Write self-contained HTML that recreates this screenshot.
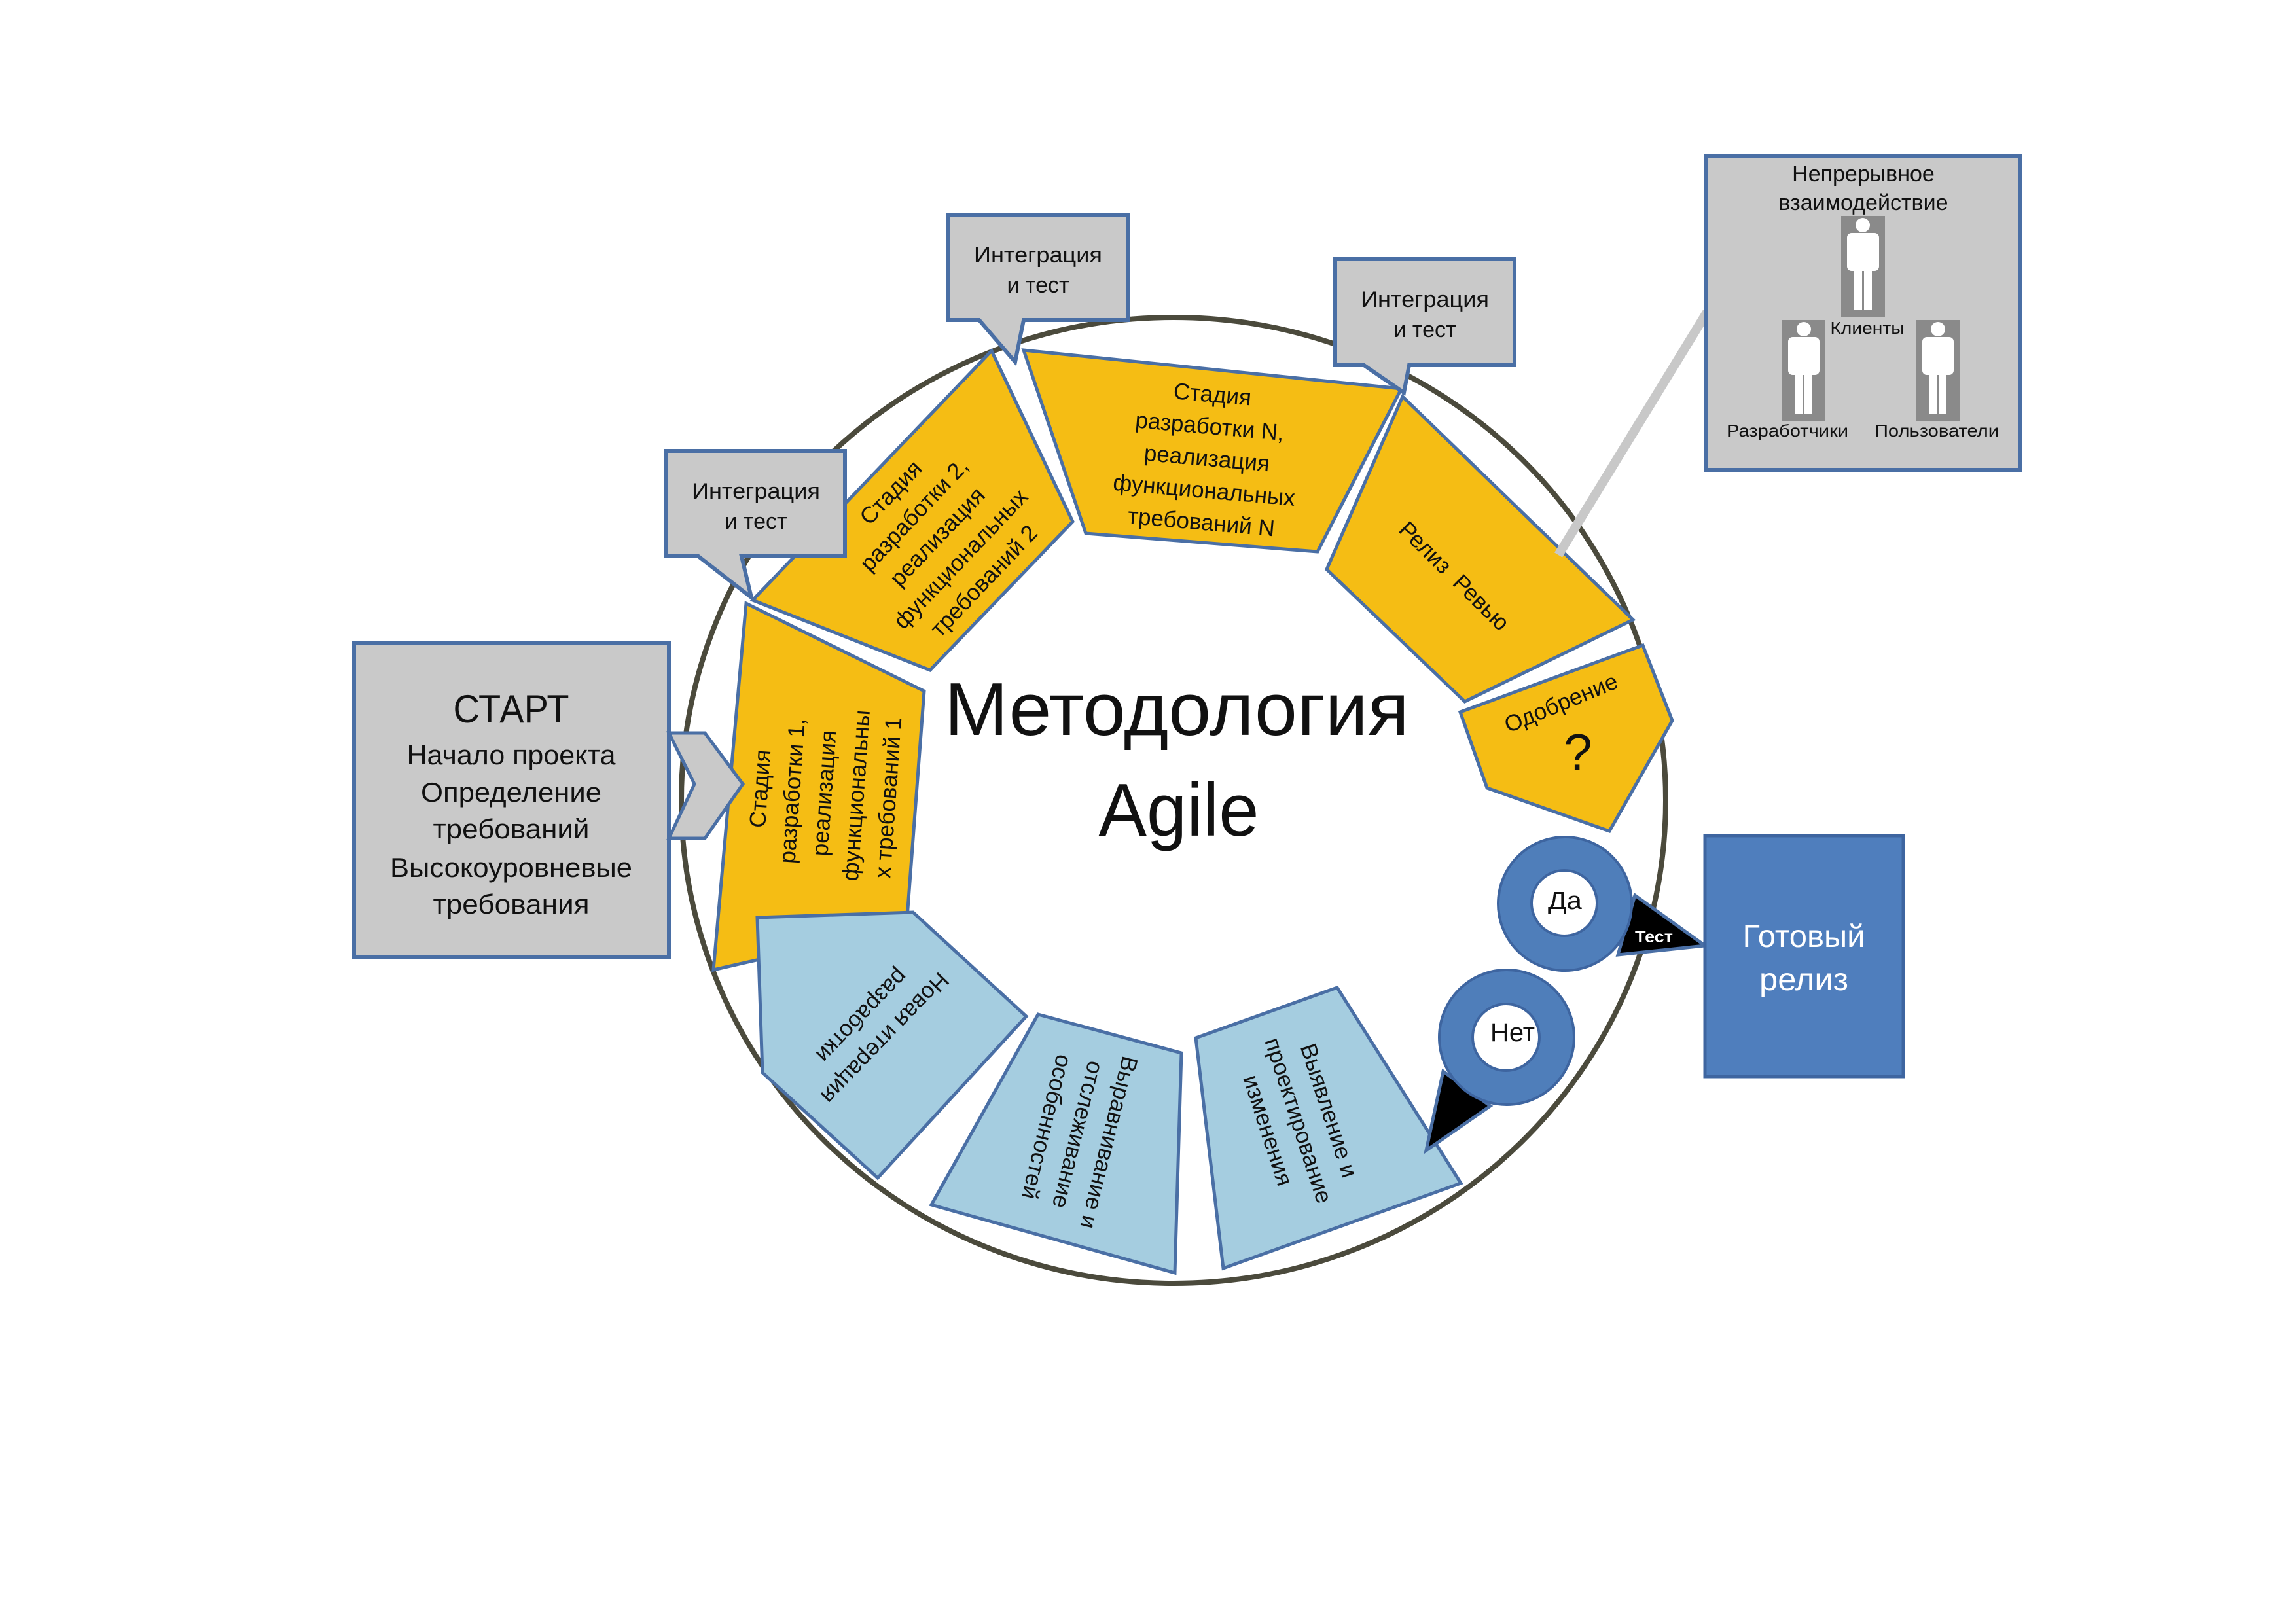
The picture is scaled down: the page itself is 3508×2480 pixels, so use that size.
<!DOCTYPE html>
<html><head><meta charset="utf-8"><style>
html,body{margin:0;padding:0;background:#fff;}
svg{display:block;}
text{font-family:"Liberation Sans","DejaVu Sans",sans-serif;fill:#111;}
</style></head><body>
<svg width="3508" height="2480" viewBox="0 0 3508 2480" xmlns="http://www.w3.org/2000/svg">
<rect width="3508" height="2480" fill="#fff"/>

<!-- big ring -->
<ellipse cx="1793" cy="1223" rx="752" ry="738" fill="none" stroke="#4b4a3c" stroke-width="8"/>

<!-- START box -->
<rect x="541" y="983" width="481" height="479" fill="#c9c9c9" stroke="#4a6fa5" stroke-width="6"/>
<g text-anchor="middle">
<text x="781" y="1104" font-size="60" textLength="177" lengthAdjust="spacingAndGlyphs">СТАРТ</text>
<text x="781" y="1168" font-size="42" textLength="319" lengthAdjust="spacingAndGlyphs">Начало проекта</text>
<text x="781" y="1225" font-size="42" textLength="276" lengthAdjust="spacingAndGlyphs">Определение</text>
<text x="781" y="1281" font-size="42" textLength="239" lengthAdjust="spacingAndGlyphs">требований</text>
<text x="781" y="1340" font-size="42" textLength="370" lengthAdjust="spacingAndGlyphs">Высокоуровневые</text>
<text x="781" y="1396" font-size="42" textLength="239" lengthAdjust="spacingAndGlyphs">требования</text>
</g>

<!-- yellow stages -->
<g fill="#f5bd14" stroke="#4a6fa5" stroke-width="5" stroke-linejoin="miter">
<polygon points="1140,922 1412,1056 1385,1415 1090,1482"/>
<polygon points="1515,536 1639,797 1421,1024 1150,917"/>
<polygon points="1564,535 2141,594 2013,843 1659,815"/>
<polygon points="2143,606 2495,947 2238,1072 2027,870"/>
<polygon points="2231,1088 2510,986 2555,1101 2459,1270 2272,1204"/>
</g>

<!-- light blue stages -->
<g fill="#a5cde0" stroke="#4a6fa5" stroke-width="5" stroke-linejoin="miter">
<polygon points="1157,1402 1395,1394 1568,1553 1341,1800 1165,1639"/>
<polygon points="1586,1550 1805,1609 1795,1945 1423,1841"/>
<polygon points="1827,1586 2043,1509 2232,1808 1869,1938"/>
</g>

<!-- stage texts -->
<g font-size="35" text-anchor="middle">
<g transform="translate(1259 1212) rotate(-86)">
<text><tspan x="0" y="-86">Стадия</tspan><tspan x="0" y="-37">разработки 1,</tspan><tspan x="0" y="12">реализация</tspan><tspan x="0" y="61">функциональны</tspan><tspan x="0" y="110">х требований 1</tspan></text>
</g>
<g transform="translate(1432 820) rotate(-46.5)">
<text><tspan x="0" y="-86">Стадия</tspan><tspan x="0" y="-37">разработки 2,</tspan><tspan x="0" y="12">реализация</tspan><tspan x="0" y="61">функциональных</tspan><tspan x="0" y="110">требований 2</tspan></text>
</g>
<g transform="translate(1844 700) rotate(5)">
<text><tspan x="0" y="-86">Стадия</tspan><tspan x="0" y="-37">разработки N,</tspan><tspan x="0" y="12">реализация</tspan><tspan x="0" y="61">функциональных</tspan><tspan x="0" y="110">требований N</tspan></text>
</g>
<g transform="translate(2222 880) rotate(44.6)">
<text x="0" y="12" xml:space="preserve">Релиз  Ревью</text>
</g>
<g transform="translate(2385 1074) rotate(-22.5)">
<text x="0" y="12">Одобрение</text>
</g>
<text x="2411" y="1176" font-size="78">?</text>

<g transform="translate(1335 1570) rotate(134)">
<text><tspan x="0" y="-12">Новая итерация</tspan><tspan x="0" y="37">разработки</tspan></text>
</g>
<g transform="translate(1647 1734) rotate(104)">
<text><tspan x="0" y="-37">Выравнивание и</tspan><tspan x="0" y="12">отслеживание</tspan><tspan x="0" y="61">особенностей</tspan></text>
</g>
<g transform="translate(1984 1712) rotate(72)">
<text><tspan x="0" y="-37">Выявление и</tspan><tspan x="0" y="12">проектирование</tspan><tspan x="0" y="61">изменения</tspan></text>
</g>
</g>

<!-- chevron -->
<polygon points="1022,1120 1077,1120 1135,1198 1077,1281 1022,1281 1061,1198" fill="#c9c9c9" stroke="#4a6fa5" stroke-width="5" stroke-linejoin="miter"/>

<!-- callouts -->
<g fill="#c9c9c9" stroke="#4a6fa5" stroke-width="6" stroke-linejoin="miter">
<path d="M1018,689 H1291 V850 H1133 L1148,913 L1067,850 H1018 Z"/>
<path d="M1449,328 H1723 V489 H1564 L1551,553 L1496,489 H1449 Z"/>
<path d="M2040,396 H2314 V558 H2153 L2145,600 L2084,558 H2040 Z"/>
</g>
<g text-anchor="middle" font-size="34">
<text x="1155" y="762" textLength="196" lengthAdjust="spacingAndGlyphs">Интеграция</text>
<text x="1155" y="808">и тест</text>
<text x="1586" y="401" textLength="196" lengthAdjust="spacingAndGlyphs">Интеграция</text>
<text x="1586" y="447">и тест</text>
<text x="2177" y="469" textLength="196" lengthAdjust="spacingAndGlyphs">Интеграция</text>
<text x="2177" y="515">и тест</text>
</g>

<!-- triangles -->
<polygon points="2498,1368 2605,1445 2472,1459" fill="#000" stroke="#4a6fa5" stroke-width="5" stroke-linejoin="miter"/>
<polygon points="2205,1637 2277,1690 2179,1758" fill="#000" stroke="#4a6fa5" stroke-width="5" stroke-linejoin="miter"/>
<text x="2527" y="1440" font-size="25" font-weight="bold" text-anchor="middle" style="fill:#fff" textLength="58" lengthAdjust="spacingAndGlyphs">Тест</text>

<!-- Da / Net rings -->
<circle cx="2391" cy="1381" r="102" fill="#4f7eba" stroke="#3e65a0" stroke-width="4"/>
<circle cx="2390" cy="1380" r="50" fill="#fff" stroke="#3e65a0" stroke-width="4"/>
<circle cx="2302" cy="1585" r="103" fill="#4f7eba" stroke="#3e65a0" stroke-width="4"/>
<circle cx="2301" cy="1585" r="51" fill="#fff" stroke="#3e65a0" stroke-width="4"/>
<text x="2391" y="1389" font-size="38" text-anchor="middle" textLength="52" lengthAdjust="spacingAndGlyphs">Да</text>
<text x="2311" y="1591" font-size="40" text-anchor="middle" textLength="68" lengthAdjust="spacingAndGlyphs">Нет</text>

<!-- Ready release -->
<rect x="2605" y="1277" width="303" height="368" fill="#4f7ebd" stroke="#3e65a0" stroke-width="5"/>
<g text-anchor="middle" font-size="48">
<text x="2756" y="1447" style="fill:#fff" textLength="187" lengthAdjust="spacingAndGlyphs">Готовый</text>
<text x="2756" y="1513" style="fill:#fff" textLength="136" lengthAdjust="spacingAndGlyphs">релиз</text>
</g>

<!-- connector -->
<line x1="2381" y1="848" x2="2608" y2="477" stroke="#c8c8c8" stroke-width="14"/>

<!-- top right box -->
<rect x="2607" y="239" width="479" height="479" fill="#c9c9c9" stroke="#4a6fa5" stroke-width="6"/>
<g text-anchor="middle" font-size="34">
<text x="2847" y="277">Непрерывное</text>
<text x="2847" y="321">взаимодействие</text>
</g>
<g fill="#fff">
<g transform="translate(2813 330)">
<rect width="67" height="155" fill="#8a8a8a"/>
<circle cx="33" cy="14" r="11"/>
<rect x="9" y="26" width="49" height="58" rx="7"/>
<rect x="20" y="80" width="12" height="64"/>
<rect x="35" y="80" width="12" height="64"/>
</g>
<g transform="translate(2723 489)">
<rect width="66" height="154" fill="#8a8a8a"/>
<circle cx="33" cy="14" r="11"/>
<rect x="9" y="26" width="48" height="58" rx="7"/>
<rect x="20" y="80" width="12" height="64"/>
<rect x="34" y="80" width="12" height="64"/>
</g>
<g transform="translate(2928 489)">
<rect width="66" height="154" fill="#8a8a8a"/>
<circle cx="33" cy="14" r="11"/>
<rect x="9" y="26" width="48" height="58" rx="7"/>
<rect x="20" y="80" width="12" height="64"/>
<rect x="34" y="80" width="12" height="64"/>
</g>
</g>
<g text-anchor="middle" font-size="26">
<text x="2853" y="510" textLength="113" lengthAdjust="spacingAndGlyphs">Клиенты</text>
<text x="2731" y="667" textLength="186" lengthAdjust="spacingAndGlyphs">Разработчики</text>
<text x="2959" y="667" textLength="190" lengthAdjust="spacingAndGlyphs">Пользователи</text>
</g>

<!-- title -->
<g text-anchor="middle" font-size="114">
<text x="1798" y="1123" textLength="710" lengthAdjust="spacingAndGlyphs">Методология</text>
<text x="1801" y="1277" textLength="245" lengthAdjust="spacingAndGlyphs">Agile</text>
</g>
</svg>
</body></html>
